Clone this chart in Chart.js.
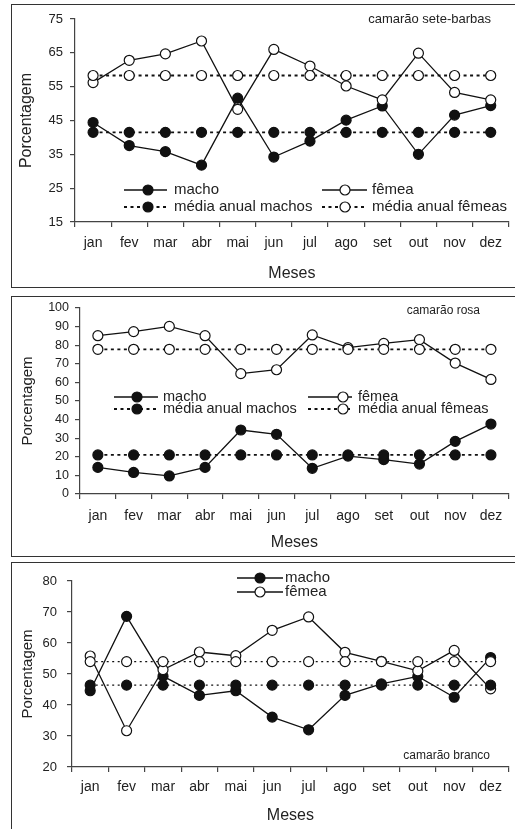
<!DOCTYPE html>
<html>
<head>
<meta charset="utf-8">
<script src="https://cdn.jsdelivr.net/npm/chart.js@4.4.1/dist/chart.umd.min.js"></script>
<style>
  html, body { margin: 0; padding: 0; background: #fff; }
  body { width: 515px; height: 829px; position: relative; overflow: hidden; }
  .painel { position: absolute; left: 0; width: 515px; }
  .caixa { position: absolute; left: 11px; width: 540px; border: 1.5px solid #333; pointer-events: none; }
</style>
</head>
<body>
<div class="painel" style="top:0;height:290px"><canvas id="graficoSeteBarbas"></canvas></div>
<div class="painel" style="top:290px;height:268px"><canvas id="graficoRosa"></canvas></div>
<div class="painel" style="top:560px;height:269px"><canvas id="graficoBranco"></canvas></div>
<div class="caixa" style="top:4px;height:282px"></div>
<div class="caixa" style="top:296px;height:259px"></div>
<div class="caixa" style="top:562px;height:300px"></div>
<script>
// meses do ano
const meses = ['jan', 'fev', 'mar', 'abr', 'mai', 'jun', 'jul', 'ago', 'set', 'out', 'nov', 'dez'];

// camarão sete-barbas
const femeaSB = [56.2, 62.8, 64.7, 68.5, 48.3, 66.0, 61.1, 55.2, 51.1, 64.9, 53.3, 51.1];
const machoSB = [44.4, 37.6, 35.8, 31.8, 51.6, 34.2, 38.9, 45.1, 49.3, 35.0, 46.6, 49.4];
const mediaFemeaSB = [58.3, 58.3, 58.3, 58.3, 58.3, 58.3, 58.3, 58.3, 58.3, 58.3, 58.3, 58.3];
const mediaMachoSB = [41.5, 41.5, 41.5, 41.5, 41.5, 41.5, 41.5, 41.5, 41.5, 41.5, 41.5, 41.5];

// camarão rosa
const femeaRosa = [85.1, 87.3, 90.1, 85.1, 64.7, 66.8, 85.5, 78.7, 81.0, 83.0, 70.4, 61.6];
const machoRosa = [14.3, 11.6, 9.7, 14.3, 34.4, 32.1, 13.8, 20.4, 18.5, 16.1, 28.3, 37.6];
const mediaFemeaRosa = [77.8, 77.8, 77.8, 77.8, 77.8, 77.8, 77.8, 77.8, 77.8, 77.8, 77.8, 77.8];
const mediaMachoRosa = [21.0, 21.0, 21.0, 21.0, 21.0, 21.0, 21.0, 21.0, 21.0, 21.0, 21.0, 21.0];

// camarão branco
const femeaBranco = [55.8, 31.7, 51.4, 57.1, 55.9, 64.1, 68.4, 57.0, 54.1, 51.0, 57.6, 45.2];
const machoBranco = [44.6, 68.6, 49.3, 43.1, 44.6, 36.1, 32.0, 43.1, 46.8, 49.2, 42.5, 55.3];
const mediaFemeaBranco = [54.0, 54.0, 54.0, 54.0, 54.0, 54.0, 54.0, 54.0, 54.0, 54.0, 54.0, 54.0];
const mediaMachoBranco = [46.4, 46.4, 46.4, 46.4, 46.4, 46.4, 46.4, 46.4, 46.4, 46.4, 46.4, 46.4];

// ticks do eixo y
const ticksSB = { min: 15, max: 75, passo: 10 };
const ticksRosa = { min: 0, max: 100, passo: 10 };
const ticksBranco = { min: 20, max: 80, passo: 10 };

const FONTE = '"Liberation Sans", Arial, Helvetica, sans-serif';
const PRETO = '#111';

Chart.defaults.font.family = FONTE;
Chart.defaults.color = '#222';

// desenha um marcador redondo
function marcador(ctx, x, y, cheio) {
  ctx.beginPath();
  ctx.arc(x, y, 5, 0, Math.PI * 2);
  ctx.fillStyle = cheio ? PRETO : '#fff';
  ctx.fill();
  ctx.lineWidth = 1.2;
  ctx.strokeStyle = PRETO;
  ctx.stroke();
}

// legenda e título desenhados dentro da área do gráfico
const legendaPlugin = {
  id: 'legenda',
  afterDraw(chart, args, opts) {
    const ctx = chart.ctx;
    ctx.save();
    (opts.itens || []).forEach(it => {
      ctx.beginPath();
      ctx.lineWidth = it.pontilhado ? 1.8 : 1.5;
      ctx.strokeStyle = PRETO;
      ctx.setLineDash(it.pontilhado ? [3, 3.5] : []);
      ctx.moveTo(it.x1, it.y);
      ctx.lineTo(it.x2, it.y);
      ctx.stroke();
      ctx.setLineDash([]);
      marcador(ctx, it.xm, it.y, it.cheio);
      ctx.fillStyle = '#222';
      ctx.font = (opts.tamanho || 15) + 'px ' + FONTE;
      ctx.textAlign = 'left';
      ctx.textBaseline = 'middle';
      ctx.fillText(it.texto, it.xt, it.y);
    });
    if (opts.titulo) {
      ctx.fillStyle = '#222';
      ctx.font = opts.titulo.tamanho + 'px ' + FONTE;
      ctx.textAlign = 'right';
      ctx.textBaseline = 'middle';
      ctx.fillText(opts.titulo.texto, opts.titulo.x, opts.titulo.y);
    }
    ctx.restore();
  }
};

function serie(dados, cheio, pontilhado, fino) {
  return {
    data: dados,
    borderColor: PRETO,
    borderWidth: pontilhado ? (fino ? 1.3 : 1.8) : 1.3,
    borderDash: pontilhado ? (fino ? [2, 3.5] : [3, 3.5]) : [],
    pointRadius: 5,
    pointBorderWidth: 1.2,
    pointBorderColor: PRETO,
    pointBackgroundColor: cheio ? PRETO : '#fff',
    fill: false,
    tension: 0
  };
}

function criarGrafico(id, cfg) {
  const eixo = { color: '#444', width: 1.2 };
  const grade = { drawOnChartArea: false, drawTicks: true, tickLength: 5, color: '#444', lineWidth: 1.2 };
  return new Chart(document.getElementById(id), {
    type: 'line',
    data: {
      labels: meses,
      datasets: [
        serie(cfg.mediaFemea, false, true, cfg.fino),
        serie(cfg.mediaMacho, true, true, cfg.fino),
        serie(cfg.femea, false, false),
        serie(cfg.macho, true, false)
      ]
    },
    options: {
      responsive: true,
      maintainAspectRatio: false,
      animation: false,
      layout: { padding: { top: cfg.topo, right: 0, left: 0, bottom: 0 } },
      plugins: {
        legend: { display: false },
        tooltip: { enabled: false },
        legenda: cfg.legenda
      },
      scales: {
        x: {
          offset: true,
          grid: Object.assign({ offset: true }, grade),
          border: eixo,
          ticks: { font: { size: 14 }, padding: cfg.padX, maxRotation: 0, autoSkip: false },
          title: { display: true, text: 'Meses', font: { size: 16 }, padding: { top: 0, bottom: cfg.padMeses } },
          afterFit: s => { s.height = cfg.alturaX; }
        },
        y: {
          min: cfg.ticks.min,
          max: cfg.ticks.max,
          grid: grade,
          border: eixo,
          ticks: { stepSize: cfg.ticks.passo, font: { size: cfg.fonteY }, padding: cfg.padY },
          title: { display: true, text: 'Porcentagem', font: { size: cfg.fonteTitY }, padding: { top: cfg.padTitY, bottom: 0 } },
          afterFit: s => { s.width = cfg.larguraY; }
        }
      }
    },
    plugins: [legendaPlugin]
  });
}

// camarão sete-barbas
criarGrafico('graficoSeteBarbas', {
  femea: femeaSB, macho: machoSB, mediaFemea: mediaFemeaSB, mediaMacho: mediaMachoSB,
  ticks: ticksSB, topo: 19, alturaX: 68, larguraY: 75,
  padX: 8, padMeses: 7, padY: 7, fonteY: 13, fonteTitY: 16, padTitY: 17,
  legenda: {
    tamanho: 15,
    itens: [
      { x1: 124, x2: 167, xm: 148, xt: 174, y: 190, cheio: true, pontilhado: false, texto: 'macho' },
      { x1: 322, x2: 367, xm: 345, xt: 372, y: 190, cheio: false, pontilhado: false, texto: 'fêmea' },
      { x1: 124, x2: 167, xm: 148, xt: 174, y: 207, cheio: true, pontilhado: true, texto: 'média anual machos' },
      { x1: 322, x2: 367, xm: 345, xt: 372, y: 207, cheio: false, pontilhado: true, texto: 'média anual fêmeas' }
    ],
    titulo: { texto: 'camarão sete-barbas', x: 491, y: 19, tamanho: 13 }
  }
});

// camarão rosa
criarGrafico('graficoRosa', {
  femea: femeaRosa, macho: machoRosa, mediaFemea: mediaFemeaRosa, mediaMacho: mediaMachoRosa,
  ticks: ticksRosa, topo: 18, alturaX: 64, larguraY: 80,
  padX: 9, padMeses: 6, padY: 6, fonteY: 12.5, fonteTitY: 15, padTitY: 19,
  legenda: {
    tamanho: 14.5,
    itens: [
      { x1: 114, x2: 158, xm: 137, xt: 163, y: 107, cheio: true, pontilhado: false, texto: 'macho' },
      { x1: 308, x2: 352, xm: 343, xt: 358, y: 107, cheio: false, pontilhado: false, texto: 'fêmea' },
      { x1: 114, x2: 158, xm: 137, xt: 163, y: 119, cheio: true, pontilhado: true, texto: 'média anual machos' },
      { x1: 308, x2: 352, xm: 343, xt: 358, y: 119, cheio: false, pontilhado: true, texto: 'média anual fêmeas' }
    ],
    titulo: { texto: 'camarão rosa', x: 480, y: 21, tamanho: 12 }
  }
});

// camarão branco
criarGrafico('graficoBranco', {
  femea: femeaBranco, macho: machoBranco, mediaFemea: mediaFemeaBranco, mediaMacho: mediaMachoBranco,
  ticks: ticksBranco, topo: 21, alturaX: 62, larguraY: 72, fino: true,
  padX: 7, padMeses: 4, padY: 10, fonteY: 13, fonteTitY: 15, padTitY: 19,
  legenda: {
    tamanho: 15,
    itens: [
      { x1: 237, x2: 283, xm: 260, xt: 285, y: 18, cheio: true, pontilhado: false, texto: 'macho' },
      { x1: 237, x2: 283, xm: 260, xt: 285, y: 32, cheio: false, pontilhado: false, texto: 'fêmea' }
    ],
    titulo: { texto: 'camarão branco', x: 490, y: 196, tamanho: 12 }
  }
});
</script>
</body>
</html>
